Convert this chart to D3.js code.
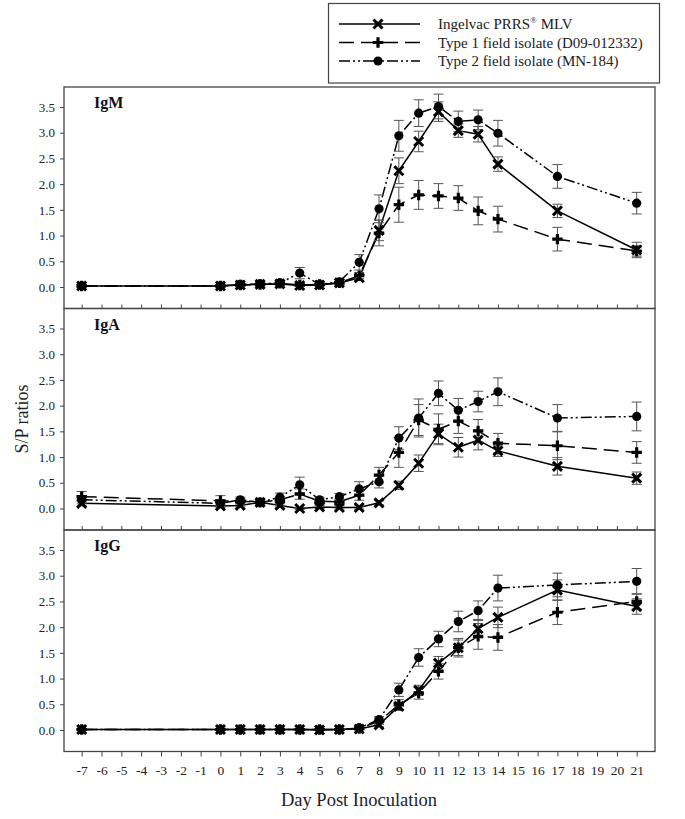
<!DOCTYPE html>
<html>
<head>
<meta charset="utf-8">
<script src="https://cdn.jsdelivr.net/npm/d3@7"></script>
<style>
  body { margin: 0; background: #fff; }
  svg { display: block; font-family: "Liberation Serif", "Times New Roman", serif; }
</style>
</head>
<body>
<svg id="chart" width="685" height="819"></svg>
<script>
// ---------- data ----------
const days = [-7, 0, 1, 2, 3, 4, 5, 6, 7, 8, 9, 10, 11, 12, 13, 14, 17, 21];
const xTicks = d3.range(-7, 22);
const yTicks = [0, 0.5, 1, 1.5, 2, 2.5, 3, 3.5];
const seriesNames = ["Ingelvac PRRS", "Type 1 field isolate (D09-012332)", "Type 2 field isolate (MN-184)"];
const panelNames = ["IgM", "IgA", "IgG"];

// IgM
const ingelvacM = [0.02,0.02,0.04,0.05,0.06,0.03,0.04,0.08,0.18,1.10,2.26,2.83,3.41,3.04,2.97,2.39,1.48,0.72];
const type1M    = [0.02,0.02,0.04,0.05,0.07,0.04,0.05,0.08,0.22,1.05,1.60,1.79,1.77,1.73,1.48,1.32,0.93,0.70];
const type2M    = [0.02,0.02,0.05,0.06,0.08,0.27,0.05,0.10,0.48,1.52,2.94,3.38,3.51,3.22,3.25,2.99,2.15,1.63];
const ingelvacMErr = [0.02,0.02,0.02,0.03,0.03,0.02,0.02,0.03,0.05,0.20,0.25,0.20,0.19,0.13,0.15,0.14,0.13,0.15];
const type1MErr    = [0.02,0.02,0.02,0.03,0.03,0.03,0.02,0.03,0.06,0.25,0.34,0.28,0.24,0.24,0.27,0.25,0.23,0.10];
const type2MErr    = [0.02,0.02,0.03,0.04,0.04,0.11,0.03,0.04,0.15,0.27,0.30,0.26,0.24,0.20,0.19,0.25,0.23,0.21];

// IgA
const ingelvacA = [0.10,0.05,0.06,0.12,0.06,0.00,0.03,0.02,0.02,0.11,0.45,0.88,1.45,1.19,1.33,1.12,0.82,0.59];
const type1A    = [0.23,0.15,0.14,0.12,0.17,0.28,0.14,0.13,0.26,0.65,1.09,1.72,1.54,1.70,1.51,1.27,1.22,1.09];
const type2A    = [0.17,0.10,0.17,0.12,0.22,0.46,0.17,0.23,0.38,0.52,1.37,1.76,2.24,1.91,2.08,2.27,1.76,1.79];
const ingelvacAErr = [0.05,0.03,0.03,0.03,0.03,0.02,0.03,0.03,0.03,0.04,0.08,0.16,0.19,0.19,0.19,0.11,0.17,0.12];
const type1AErr    = [0.10,0.10,0.05,0.05,0.06,0.10,0.05,0.06,0.10,0.15,0.29,0.30,0.30,0.24,0.22,0.19,0.27,0.21];
const type2AErr    = [0.08,0.06,0.05,0.05,0.08,0.15,0.05,0.06,0.14,0.12,0.22,0.37,0.24,0.23,0.20,0.27,0.26,0.28];

// IgG
const ingelvacG = [0.01,0.01,0.01,0.01,0.01,0.01,0.00,0.01,0.02,0.10,0.46,0.77,1.30,1.60,1.97,2.19,2.72,2.40];
const type1G    = [0.01,0.01,0.01,0.01,0.01,0.01,0.01,0.01,0.03,0.17,0.49,0.72,1.14,1.60,1.82,1.80,2.29,2.50];
const type2G    = [0.01,0.01,0.01,0.01,0.01,0.01,0.01,0.01,0.04,0.20,0.78,1.41,1.77,2.11,2.32,2.76,2.82,2.89];
const ingelvacGErr = [0.01,0.01,0.01,0.01,0.01,0.01,0.01,0.01,0.02,0.04,0.08,0.10,0.13,0.15,0.18,0.20,0.20,0.15];
const type1GErr    = [0.01,0.01,0.01,0.01,0.01,0.01,0.01,0.01,0.03,0.06,0.10,0.12,0.15,0.18,0.25,0.25,0.24,0.15];
const type2GErr    = [0.01,0.01,0.01,0.01,0.01,0.01,0.01,0.01,0.03,0.06,0.13,0.17,0.15,0.20,0.19,0.25,0.23,0.25];

const panels = [
  { name: panelNames[0], series: [[ingelvacM, ingelvacMErr], [type1M, type1MErr], [type2M, type2MErr]] },
  { name: panelNames[1], series: [[ingelvacA, ingelvacAErr], [type1A, type1AErr], [type2A, type2AErr]] },
  { name: panelNames[2], series: [[ingelvacG, ingelvacGErr], [type1G, type1GErr], [type2G, type2GErr]] }
];

// ---------- layout ----------
const svg = d3.select("#chart");
const left = 64, right = 655;
const panelTops = [87, 308.5, 530];
const panelH = 221.5;
const x = d3.scaleLinear().domain([-7, 21]).range([81.7, 636.7]);
const dashes = [null, "15,7", "11,3,2,3,2,3"];
const markerKinds = ["x", "plus", "circle"];

function drawMarker(g, kind, cx, cy) {
  if (kind === "x") {
    const s = 4.5;
    g.append("path").attr("d", `M${cx-s},${cy-s}L${cx+s},${cy+s}M${cx-s},${cy+s}L${cx+s},${cy-s}`)
      .attr("stroke", "#000").attr("stroke-width", 3).attr("fill", "none");
  } else if (kind === "plus") {
    const s = 5.2;
    g.append("path").attr("d", `M${cx-s},${cy}L${cx+s},${cy}M${cx},${cy-s}L${cx},${cy+s}`)
      .attr("stroke", "#000").attr("stroke-width", 3.2).attr("fill", "none");
  } else {
    g.append("circle").attr("cx", cx).attr("cy", cy).attr("r", 4.6).attr("fill", "#000");
  }
}

panels.forEach((p, pi) => {
  const top = panelTops[pi];
  const y = d3.scaleLinear().domain([0, 3.5]).range([top + 200, top + 20]);
  const g = svg.append("g");

  // left axis
  const yAxis = d3.axisLeft(y).tickValues(yTicks).tickFormat(d3.format(".1f")).tickSize(4).tickPadding(5);
  const ya = g.append("g").attr("transform", `translate(${left},0)`).call(yAxis);
  ya.select(".domain").remove();
  ya.selectAll("line").attr("stroke", "#444");
  ya.selectAll("text").attr("font-size", 13).attr("fill", "#222")
    .attr("font-family", "Liberation Serif, Times New Roman, serif");

  // bottom axis ticks
  const last = pi === panels.length - 1;
  const xAxis = d3.axisBottom(x).tickValues(xTicks).tickSize(last ? 5 : -4)
    .tickFormat(last ? (d => String(d).replace("\u2212", "-")) : "").tickPadding(9);
  const xa = g.append("g").attr("transform", `translate(0,${top + panelH})`).call(xAxis);
  xa.select(".domain").remove();
  xa.selectAll("line").attr("stroke", "#444");
  xa.selectAll("text").attr("font-size", 13.5).attr("fill", "#222")
    .attr("font-family", "Liberation Serif, Times New Roman, serif");

  // frame
  g.append("rect").attr("x", left).attr("y", top).attr("width", right - left).attr("height", panelH)
    .attr("fill", "none").attr("stroke", "#444").attr("stroke-width", 1.3);

  // panel label
  g.append("text").attr("x", 94).attr("y", top + 21).attr("font-size", 16).attr("font-weight", "bold")
    .attr("fill", "#111").text(p.name);

  const line = d3.line().x((d, i) => x(days[i])).y(d => y(d));

  p.series.forEach(([vals, errs], si) => {
    g.append("path").attr("d", line(vals)).attr("fill", "none").attr("stroke", "#000")
      .attr("stroke-width", 1.5).attr("stroke-dasharray", dashes[si]);
  });
  p.series.forEach(([vals, errs], si) => {
    vals.forEach((v, i) => {
      const cx = x(days[i]);
      const y1 = y(v + errs[i]), y0 = y(v - errs[i]);
      g.append("path")
        .attr("d", `M${cx},${y0}L${cx},${y1}M${cx-5},${y1}L${cx+5},${y1}M${cx-5},${y0}L${cx+5},${y0}`)
        .attr("stroke", "#555").attr("stroke-width", 1).attr("fill", "none");
    });
  });
  p.series.forEach(([vals, errs], si) => {
    vals.forEach((v, i) => drawMarker(g, markerKinds[si], x(days[i]), y(v)));
  });
});

// axis titles
svg.append("text").attr("transform", "translate(28,419) rotate(-90)").attr("text-anchor", "middle")
  .attr("font-size", 18).attr("fill", "#222").text("S/P ratios");
svg.append("text").attr("x", 359).attr("y", 806).attr("text-anchor", "middle")
  .attr("font-size", 18.5).attr("fill", "#222").text("Day Post Inoculation");

// legend
const lg = svg.append("g");
lg.append("rect").attr("x", 328.5).attr("y", 3.5).attr("width", 331).attr("height", 79.5)
  .attr("fill", "#fff").attr("stroke", "#444").attr("stroke-width", 1.2);
const legendY = [24, 42.5, 61];
seriesNames.forEach((name, i) => {
  const yy = legendY[i];
  lg.append("line").attr("x1", 339).attr("x2", 420).attr("y1", yy).attr("y2", yy)
    .attr("stroke", "#000").attr("stroke-width", 1.5).attr("stroke-dasharray", dashes[i]);
  drawMarker(lg, markerKinds[i], 378, yy);
  const t = lg.append("text").attr("x", 438).attr("y", yy + 5).attr("font-size", 15).attr("fill", "#222");
  if (i === 0) {
    t.append("tspan").text(name);
    t.append("tspan").attr("font-size", 9).attr("dy", -6).text("®");
    t.append("tspan").attr("dy", 6).text(" MLV");
  } else {
    t.text(name);
  }
});
</script>
</body>
</html>
